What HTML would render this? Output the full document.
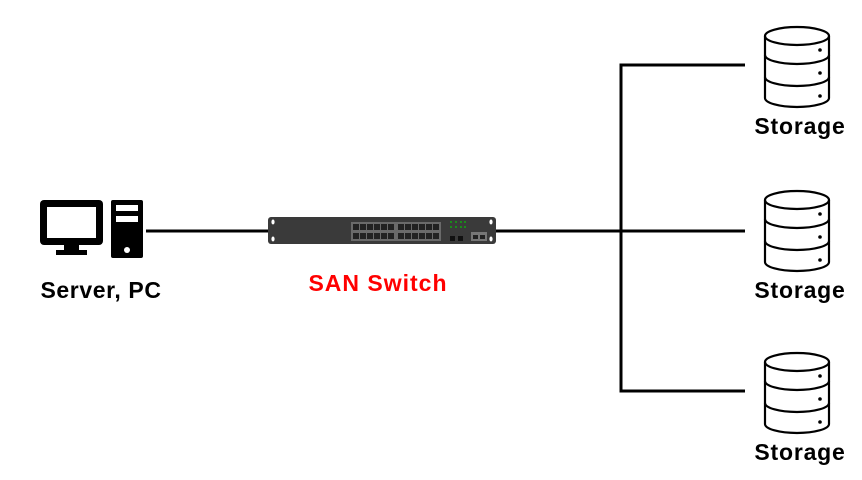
<!DOCTYPE html>
<html><head><meta charset="utf-8"><style>
body{margin:0;background:#fff;}
svg{display:block}
text{font-family:"Liberation Sans","Noto Sans CJK KR",sans-serif;font-weight:bold;}
</style></head><body>
<svg width="862" height="480" viewBox="0 0 862 480">
<defs>
<g id="st" fill="none" stroke="#000" stroke-width="2.2">
<ellipse cx="797" cy="36" rx="32" ry="9" fill="#fff"/>
<path d="M765 36 V98 A32 9 0 0 0 829 98 V36"/>
<path d="M765 55 A32 9 0 0 0 829 55"/>
<path d="M765 77 A32 9 0 0 0 829 77"/>
<circle cx="820" cy="50" r="1.8" fill="#000" stroke="none"/>
<circle cx="820" cy="73" r="1.8" fill="#000" stroke="none"/>
<circle cx="820" cy="96" r="1.8" fill="#000" stroke="none"/>
<text x="800" y="134" font-size="23" letter-spacing="0.8" text-anchor="middle" fill="#000" stroke="none">Storage</text>
</g>
<g id="port"><rect width="6" height="6" fill="#222"/></g>
</defs>
<g stroke="#000" stroke-width="3" fill="none">
<line x1="146" y1="231" x2="270" y2="231"/>
<line x1="494" y1="231" x2="745" y2="231"/>
<polyline points="745,65 621,65 621,391 745,391"/>
</g>
<rect x="40" y="200" width="63" height="45" rx="4" fill="#000"/>
<rect x="47" y="207" width="49" height="31" fill="#fff"/>
<rect x="64" y="245" width="15" height="6" fill="#000"/>
<rect x="56" y="250" width="31" height="5" fill="#000"/>
<rect x="111" y="200" width="32" height="58" rx="2" fill="#000"/>
<rect x="116" y="205" width="22" height="6" fill="#fff"/>
<rect x="116" y="216" width="22" height="6" fill="#fff"/>
<circle cx="127" cy="250" r="3" fill="#fff"/>
<text x="101" y="298" font-size="23" letter-spacing="0.6" text-anchor="middle" fill="#000">Server, PC</text>
<rect x="268" y="217" width="228" height="27" rx="3" fill="#3a3a3a"/>
<ellipse cx="273" cy="222" rx="1.6" ry="2.5" fill="#fff"/>
<ellipse cx="273" cy="239" rx="1.6" ry="2.5" fill="#fff"/>
<ellipse cx="491" cy="222" rx="1.6" ry="2.5" fill="#fff"/>
<ellipse cx="491" cy="239" rx="1.6" ry="2.5" fill="#fff"/>
<rect x="351" y="222" width="90" height="19" fill="#6a6a6a"/>
<g>
<use href="#port" x="353" y="224"/><use href="#port" x="360" y="224"/><use href="#port" x="367" y="224"/><use href="#port" x="374" y="224"/><use href="#port" x="381" y="224"/><use href="#port" x="388" y="224"/>
<use href="#port" x="398" y="224"/><use href="#port" x="405" y="224"/><use href="#port" x="412" y="224"/><use href="#port" x="419" y="224"/><use href="#port" x="426" y="224"/><use href="#port" x="433" y="224"/>
<use href="#port" x="353" y="233"/><use href="#port" x="360" y="233"/><use href="#port" x="367" y="233"/><use href="#port" x="374" y="233"/><use href="#port" x="381" y="233"/><use href="#port" x="388" y="233"/>
<use href="#port" x="398" y="233"/><use href="#port" x="405" y="233"/><use href="#port" x="412" y="233"/><use href="#port" x="419" y="233"/><use href="#port" x="426" y="233"/><use href="#port" x="433" y="233"/>
</g>
<g fill="#1a8a1a">
<rect x="450" y="221" width="2" height="2"/><rect x="455" y="221" width="2" height="2"/><rect x="460" y="221" width="2" height="2"/><rect x="464" y="221" width="2" height="2"/>
<rect x="450" y="226" width="2" height="2"/><rect x="455" y="226" width="2" height="2"/><rect x="460" y="226" width="2" height="2"/><rect x="464" y="226" width="2" height="2"/>
</g>
<rect x="450" y="236" width="5" height="5" fill="#111"/><rect x="458" y="236" width="5" height="5" fill="#111"/>
<rect x="471" y="232" width="16" height="9" fill="#777"/>
<rect x="473" y="235" width="5" height="4" fill="#222"/><rect x="480" y="235" width="5" height="4" fill="#222"/>
<text x="378" y="291" font-size="23" letter-spacing="1" text-anchor="middle" fill="#f00">SAN Switch</text>
<use href="#st"/>
<use href="#st" y="164"/>
<use href="#st" y="326"/>
</svg>
</body></html>
